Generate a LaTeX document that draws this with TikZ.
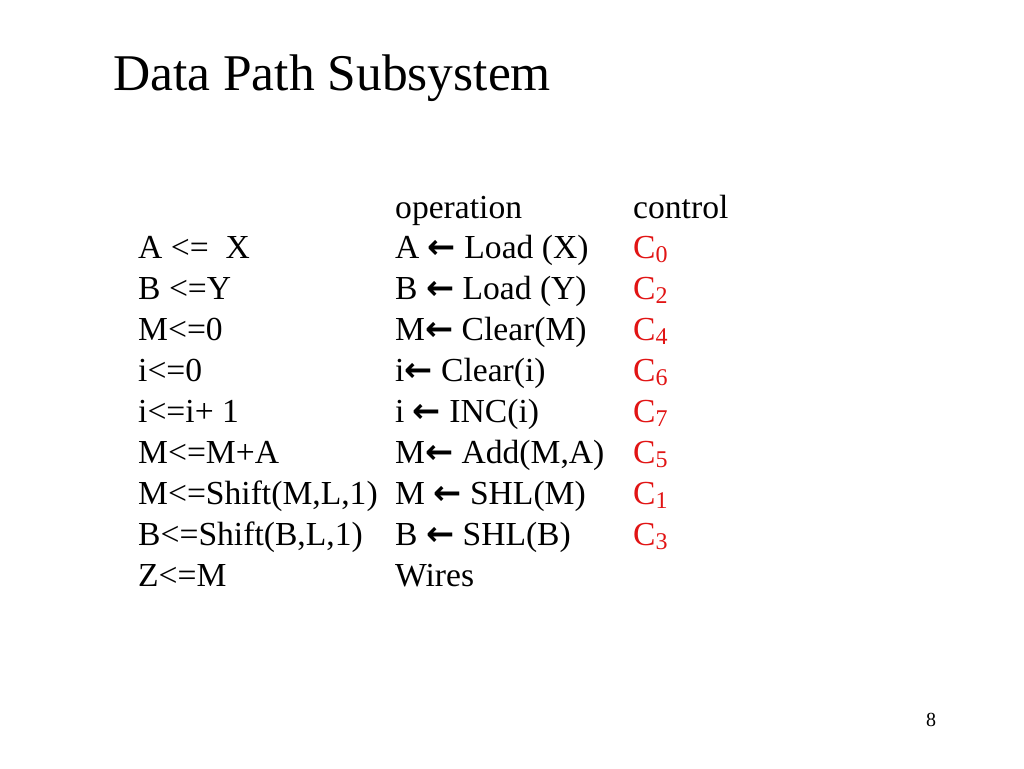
\documentclass[tikz,border=0pt]{standalone}
\usepackage{fontspec}
\setmainfont{Liberation Serif}
\newfontfamily\arr{DejaVu Sans}
\definecolor{cred}{RGB}{225,20,20}
\newcommand{\la}{{\arr\bfseries ←}}
\begin{document}
\begin{tikzpicture}[x=1pt,y=-1pt,
 txt/.style={anchor=base west,inner sep=0pt,font=\fontsize{33.6}{34}\selectfont},
 ctl/.style={txt,text=cred}]
\useasboundingbox (0,0) rectangle (1024,768);
\node[anchor=base west,inner sep=0pt,font=\fontsize{51.5}{52}\selectfont] (title) at (113,90) {Data Path Subsystem};
\node[txt] (hop) at (395,218) {operation};
\node[txt] (hc) at (633,218) {control};
\foreach \i/\a/\b/\c in {1/{A <=\ \ X}/{A \la{} Load (X)}/0,
 2/{B <=Y}/{B \la{} Load (Y)}/2,
 3/{M<=0}/{M\la{} Clear(M)}/4,
 4/{i<=0}/{i\la{} Clear(i)}/6,
 5/{i<=i+ 1}/{i \la{} INC(i)}/7,
 6/{M<=M+A}/{M\la{} Add(M,A)}/5,
 7/{M<=Shift(M,L,1)}/{M \la{} SHL(M)}/1,
 8/{B<=Shift(B,L,1)}/{B \la{} SHL(B)}/3}{
 \node[txt] (l\i) at (138,217+41*\i) {\a};
 \node[txt] (o\i) at (395,217+41*\i) {\b};
 \node[ctl] (c\i) at (633,217+41*\i) {C\raisebox{-0.12em}{\fontsize{24}{24}\selectfont\c}};
}
\node[txt] (l9) at (138,586) {Z<=M};
\node[txt] (o9) at (395,586) {Wires};
\node[anchor=base west,inner sep=0pt,font=\fontsize{20}{20}\selectfont] (pg) at (926,726) {8};
\end{tikzpicture}
\end{document}
